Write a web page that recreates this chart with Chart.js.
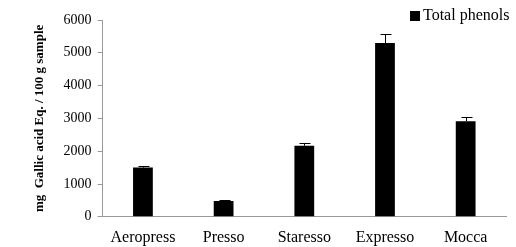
<!DOCTYPE html>
<html>
<head>
<meta charset="utf-8">
<script src="https://cdn.jsdelivr.net/npm/chart.js@4/dist/chart.umd.min.js"></script>
<style>
  html, body { margin: 0; padding: 0; background: #fff; }
  #wrap { width: 516px; height: 247px; }
</style>
</head>
<body>
<div id="wrap"><canvas id="phenolChart"></canvas></div>
<script>
// data
const methods = ['Aeropress', 'Presso', 'Staresso', 'Expresso', 'Mocca'];
const totalPhenols = [1500, 480, 2165, 5300, 2910];
const phenolErr = [55, 20, 95, 280, 140];
const yTicks = [0, 1000, 2000, 3000, 4000, 5000, 6000];

const serif = '"Liberation Serif", "Times New Roman", serif';

// error bars: line from bar top up to value + err, with a small cap
const errorBars = {
    id: 'errorBars',
    afterDatasetsDraw(chart) {
        const c = chart.ctx;
        const meta = chart.getDatasetMeta(0);
        const y = chart.scales.y;
        c.save();
        c.strokeStyle = '#000';
        c.lineWidth = 1;
        meta.data.forEach((bar, i) => {
            const x = Math.round(bar.x) + 0.5;
            const top = Math.round(y.getPixelForValue(totalPhenols[i] + phenolErr[i])) + 0.5;
            c.beginPath();
            c.moveTo(x, bar.y);
            c.lineTo(x, top);
            c.moveTo(x - 5, top);
            c.lineTo(x + 6, top);
            c.stroke();
        });
        c.restore();
    }
};

// legend drawn by hand so it doesn't push the plot area down
const cornerLegend = {
    id: 'cornerLegend',
    afterDraw(chart) {
        const c = chart.ctx;
        c.save();
        c.fillStyle = '#000';
        c.fillRect(410, 11, 10, 10);
        c.font = '16px ' + serif;
        c.textBaseline = 'middle';
        c.fillText('Total phenols', 423, 16);
        c.restore();
    }
};

new Chart(document.getElementById('phenolChart'), {
    type: 'bar',
    data: {
        labels: methods,
        datasets: [{
            label: 'Total phenols',
            data: totalPhenols,
            backgroundColor: '#000',
            barPercentage: 0.245,
            categoryPercentage: 1
        }]
    },
    options: {
        responsive: true,
        maintainAspectRatio: false,
        animation: false,
        layout: { padding: { top: 20, right: 10, left: 32, bottom: -11 } },
        plugins: {
            legend: { display: false },
            tooltip: { enabled: false }
        },
        scales: {
            x: {
                grid: { display: false, drawTicks: false },
                border: { color: '#999', width: 1 },
                ticks: { color: '#000', font: { family: serif, size: 16 }, padding: 11 }
            },
            y: {
                min: 0,
                max: 6000,
                afterBuildTicks: axis => { axis.ticks = yTicks.map(v => ({ value: v })); },
                grid: { drawOnChartArea: false, drawTicks: true, tickLength: 5, color: '#999' },
                border: { color: '#999', width: 1 },
                ticks: { color: '#000', font: { family: serif, size: 14 }, padding: 6, callback: v => String(v) },
                title: {
                    display: true,
                    text: 'mg  Gallic acid Eq. / 100 g sample',
                    color: '#000',
                    font: { family: serif, size: 13, weight: 'bold' },
                    padding: { top: 0, bottom: 10 }
                }
            }
        }
    },
    plugins: [errorBars, cornerLegend]
});
</script>
</body>
</html>
